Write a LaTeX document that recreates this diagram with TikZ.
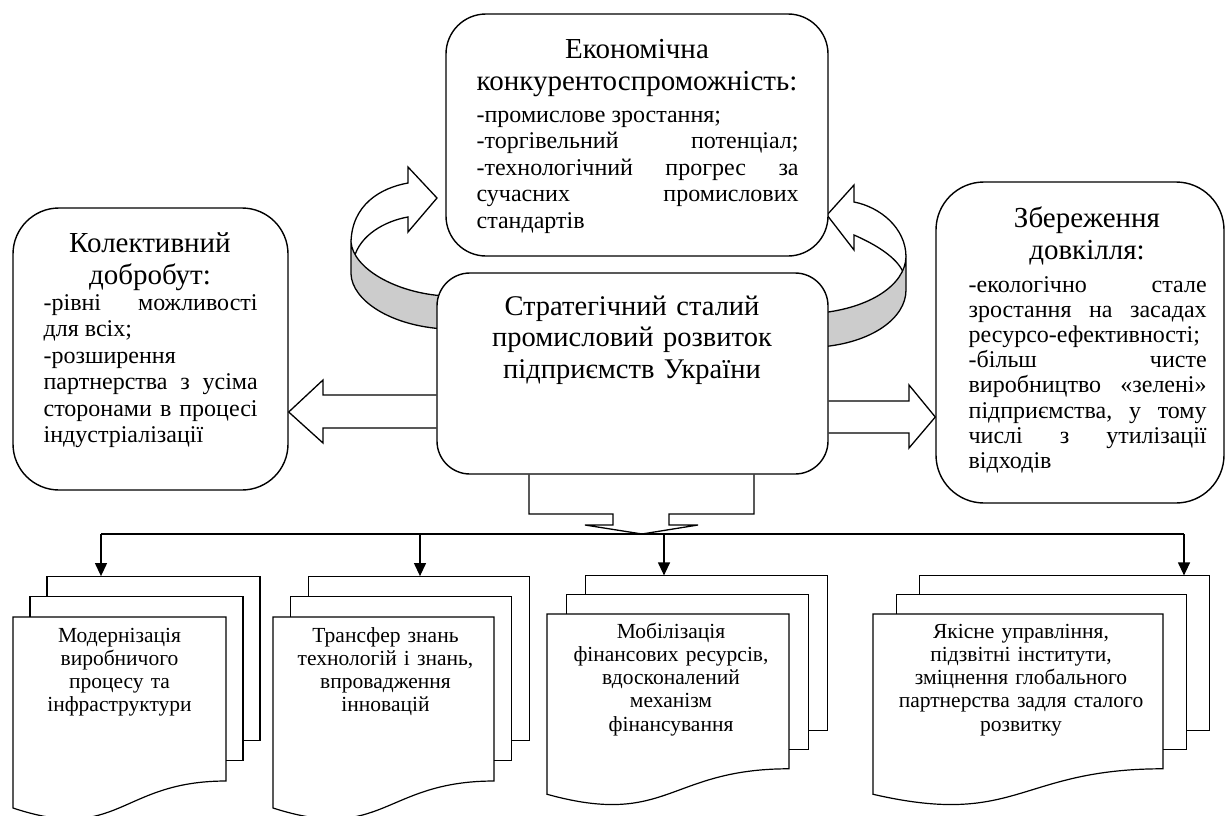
\documentclass[tikz,border=0pt]{standalone}
\usepackage{fontspec}
\setmainfont{Liberation Serif}
\usetikzlibrary{arrows.meta}

\definecolor{bandgrey}{RGB}{204,204,204}

\newcommand{\ttlsize}{\fontsize{29}{32}\selectfont}
\newcommand{\bodysize}{\fontsize{24}{26.5}\selectfont}
\newcommand{\docsize}{\fontsize{21.5}{23.3}\selectfont}

% three stacked sheets: name, x, y, width, height
\newcommand{\docstack}[5]{%
  \pgfmathsetmacro\sdx{0.08*#4}
  \pgfmathsetmacro\sdy{0.1*#5}
  \draw[sheet] ({#2+#4+\sdx},{#3+0.802*#5-2*\sdy}) -- ({#2+#4+2*\sdx},{#3+0.802*#5-2*\sdy})
    -- ({#2+#4+2*\sdx},{#3-2*\sdy}) -- ({#2+2*\sdx},{#3-2*\sdy}) -- ({#2+2*\sdx},{#3-\sdy});
  \draw[sheet] ({#2+#4},{#3+0.802*#5-\sdy}) -- ({#2+#4+\sdx},{#3+0.802*#5-\sdy})
    -- ({#2+#4+\sdx},{#3-\sdy}) -- ({#2+\sdx},{#3-\sdy}) -- ({#2+\sdx},#3);
  \draw[sheet] (#2,#3) -- ({#2+#4},#3) -- ({#2+#4},{#3+0.802*#5})
    .. controls ({#2+0.5*#4},{#3+0.802*#5}) and ({#2+0.5*#4},{#3+1.1075*#5}) .. (#2,{#3+0.934*#5}) -- cycle;
  \coordinate (#1) at ({#2+0.5*#4},#3);
  \coordinate (#1back) at ({#2+2*\sdx},{#3-2*\sdy});
}

\begin{document}
\begin{tikzpicture}[x=1pt,y=-1pt,
  line width=1.3pt,
  bigbox/.style={draw, fill=white, line width=1.4pt},
  ttl/.style={font=\ttlsize, align=center, inner sep=0pt, anchor=base},
  txt/.style={font=\bodysize, align=justify, inner sep=0pt, anchor=base west},
  doctxt/.style={font=\docsize, align=center, inner sep=0pt, anchor=base},
  sheet/.style={line width=1.2pt, line join=miter},
  band/.style={draw, fill=bandgrey, line join=round},
  bus/.style={line width=1.2pt},
  >={Triangle[width=12pt,length=13pt]}]

\useasboundingbox (0,0) rectangle (1229,816);

% curved arrows round the top box
\path[fill=white] (351,242) .. controls (352,205) and (380,188) .. (408,183) -- (408,167) -- (437,198)
  -- (408,232) -- (408,217) .. controls (385,221) and (360,235) .. (354,258) -- cycle;
\draw (351,242) .. controls (352,205) and (380,188) .. (408,183) -- (408,167) -- (437,198)
  -- (408,232) -- (408,217) .. controls (385,221) and (360,235) .. (354,258);
\draw[band] (351,242) .. controls (353,268) and (395,293) .. (445,296) -- (445,329)
  .. controls (390,326) and (352,300) .. (351,274) -- cycle;

\path[fill=white] (906,257) .. controls (906,228) and (880,207) .. (854,202) -- (854,185) -- (827,215)
  -- (854,250) -- (854,235) .. controls (877,245) and (897,258) .. (903,272) -- cycle;
\draw (906,257) .. controls (906,228) and (880,207) .. (854,202) -- (854,185) -- (827,215)
  -- (854,250) -- (854,235) .. controls (877,245) and (897,258) .. (903,272);
\draw[band] (906,257) .. controls (905,285) and (870,308) .. (820,313) -- (820,347)
  .. controls (872,343) and (906,318) .. (906,290) -- cycle;

% boxes
\node[bigbox, rounded corners=40pt, minimum width=382pt, minimum height=242pt] (econ) at (637,135) {};
\node[bigbox, rounded corners=33pt, minimum width=391pt, minimum height=201pt] (strat) at (632.5,373.5) {};
\node[bigbox, rounded corners=46pt, minimum width=275pt, minimum height=282pt] (welfare) at (150.5,349) {};
\node[bigbox, rounded corners=48pt, minimum width=288pt, minimum height=321pt] (ecology) at (1080,342.5) {};

\node[ttl, text width=370pt] (econT) at (637,59) {Економічна\\конкурентоспроможність:};
\node[txt, text width=322pt] (econB) at (476,122) {-промислове зростання;\\
  -торгівельний\hfill потенціал;\\
  -технологічний\hfill прогрес\hfill за\\
  сучасних\hfill промислових\\
  стандартів};

\node[ttl, text width=380pt, font=\fontsize{28.5}{31.5}\selectfont] (stratT) at (632,315)
  {Стратегічний сталий\\промисловий розвиток\\підприємств України};

\node[ttl, text width=260pt] (welfareT) at (150,252) {Колективний\\добробут:};
\node[txt, text width=214pt] (welfareB) at (43,310) {-рівні\hfill можливості\\
  для всіх;\\
  -розширення\\
  партнерства\hfill з\hfill усіма\\
  сторонами\hfill в\hfill процесі\\
  індустріалізації};

\node[ttl, text width=280pt] (ecologyT) at (1087,227) {Збереження\\довкілля:};
\node[txt, text width=238pt, font=\fontsize{24}{25.2}\selectfont] (ecologyB) at (968,292) {-екологічно\hfill стале\\
  зростання\hfill на\hfill засадах\\
  ресурсо-ефективності;\\
  -більш\hfill чисте\\
  виробництво\hfill «зелені»\\
  підприємства,\hfill у\hfill тому\\
  числі\hfill з\hfill утилізації\\
  відходів};

% block arrows out of the centre box
\draw (strat.west |- 0,395) -- (323,395) -- (323,380) -- (welfare.east |- 0,412) -- (323,443) -- (323,428)
  -- (strat.west |- 0,428);
\draw (strat.east |- 0,401) -- (909,401) -- (909,385) -- (ecology.west |- 0,417) -- (909,448) -- (909,433)
  -- (strat.east |- 0,433);
\draw (strat.south -| 529,0) -- (529,514) -- (613,514) -- (613,525) -- (585,525) -- (642,534) -- (698,525)
  -- (669,525) -- (669,514) -- (754,514) -- (strat.south -| 754,0);

% documents
\docstack{d1}{13}{617}{213}{204.5}
\docstack{d2}{273}{617}{221}{204.5}
\docstack{d3}{547}{614}{242}{193}
\docstack{d4}{873}{614}{290}{193}

\node[doctxt, text width=200pt] (d1t) at ([yshift=-25pt]d1) {Модернізація\\виробничого\\процесу та\\інфраструктури};
\node[doctxt, text width=210pt] (d2t) at ([xshift=2pt,yshift=-25pt]d2) {Трансфер знань\\технологій і знань,\\впровадження\\інновацій};
\node[doctxt, text width=230pt] (d3t) at ([xshift=3pt,yshift=-24pt]d3) {Мобілізація\\фінансових ресурсів,\\вдосконалений\\механізм\\фінансування};
\node[doctxt, text width=280pt] (d4t) at ([xshift=3pt,yshift=-24pt]d4) {Якісне управління,\\підзвітні інститути,\\зміцнення глобального\\партнерства задля сталого\\розвитку};

% distribution line
\coordinate (tap1) at (101,534);
\coordinate (tap2) at (420,534);
\coordinate (tap3) at (664,534);
\coordinate (tap4) at (1184,534);
\draw[bus] (tap1) -- (tap4);
\foreach \i in {1,...,4}
  \draw[bus,->] (tap\i) -- (tap\i |- d\i back);

\end{tikzpicture}
\end{document}
